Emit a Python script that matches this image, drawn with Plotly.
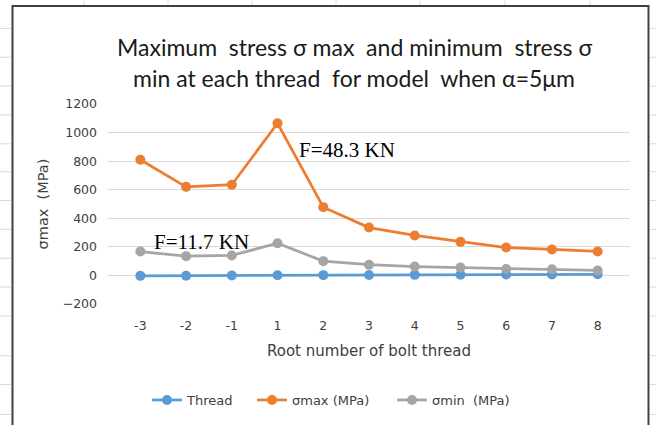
import plotly.graph_objects as go

categories = ["-3", "-2", "-1", "1", "2", "3", "4", "5", "6", "7", "8"]
thread = [-3, -2, -1, 1, 2, 3, 4, 5, 6, 7, 8]
sigma_max = [810, 620, 635, 1065, 478, 335, 280, 235, 195, 182, 168]
sigma_min = [167, 135, 140, 225, 100, 75, 62, 56, 45, 43, 35]
y_ticks = [-200, 0, 200, 400, 600, 800, 1000, 1200]
series_names = ["Thread", "σmax (MPa)", "σmin  (MPa)"]

W, H = 656, 425
L, R, T, B = 108, 630, 104, 305

def px(x):
    return (x - L) / (R - L)

def py(y):
    return (B - y) / (B - T)

fig = go.Figure()
colors = ["#5B9BD5", "#ED7D31", "#A5A5A5"]
legend_ids = ["legend", "legend2", "legend3"]
legend_x = [153, 258, 398]
for name, vals, col, lid in zip(series_names, [thread, sigma_max, sigma_min], colors, legend_ids):
    fig.add_trace(go.Scatter(x=categories, y=vals, name=name, mode="lines+markers",
                             line=dict(color=col, width=2.75),
                             marker=dict(color=col, size=10), legend=lid))

shapes = [dict(type="rect", xref="paper", yref="paper",
               x0=px(12.5), x1=px(648.5), y0=py(440), y1=py(5.5),
               line=dict(color="#404040", width=2), layer="above")]
# faint spreadsheet grid outside chart
for xc in [84, 168, 252, 336, 420, 505, 590]:
    shapes.append(dict(type="line", xref="paper", yref="paper",
                       x0=px(xc), x1=px(xc), y0=py(0), y1=py(4.5),
                       line=dict(color="#DADADA", width=1), layer="below"))
for yr in [28, 57, 86, 115, 144, 172, 201, 230, 259, 288, 317, 357, 386, 416]:
    shapes.append(dict(type="line", xref="paper", yref="paper",
                       x0=px(0), x1=px(11), y0=py(yr), y1=py(yr),
                       line=dict(color="#DADADA", width=1), layer="below"))
    shapes.append(dict(type="line", xref="paper", yref="paper",
                       x0=px(650), x1=px(656), y0=py(yr), y1=py(yr),
                       line=dict(color="#DADADA", width=1), layer="below"))

title_font = dict(family="Lato", size=23, color="#1a1a1a")
ann_font = dict(family="Liberation Serif", size=21, color="#000000")
annotations = [
    dict(text="Maximum  stress σ max  and minimum  stress σ", xref="paper", yref="paper",
         x=px(354), y=py(47), showarrow=False, font=title_font, xanchor="center", yanchor="middle"),
    dict(text="min at each thread  for model  when α=5μm", xref="paper", yref="paper",
         x=px(354), y=py(78), showarrow=False, font=title_font, xanchor="center", yanchor="middle"),
    dict(text="F=48.3 KN", xref="paper", yref="paper", x=px(297), y=py(150),
         showarrow=False, xanchor="left", yanchor="middle", font=ann_font),
    dict(text="F=11.7 KN", xref="paper", yref="paper", x=px(152), y=py(243),
         showarrow=False, xanchor="left", yanchor="middle", font=ann_font),
]

tick_font = dict(family="DejaVu Sans", size=12.5, color="#404040")
legend_font = dict(family="DejaVu Sans", size=13, color="#404040")
legends = {}
for lid, lx in zip(legend_ids, legend_x):
    legends[lid] = dict(orientation="h", x=px(lx - 6), xanchor="left", y=py(400), yanchor="middle",
                        font=legend_font, bgcolor="rgba(0,0,0,0)", itemwidth=30)

fig.update_layout(
    width=W, height=H,
    margin=dict(l=L, r=W - R, t=T, b=H - B),
    paper_bgcolor="white", plot_bgcolor="white",
    showlegend=True,
    xaxis=dict(type="category", showgrid=False, showline=False, ticks="",
               tickfont=tick_font, ticklabelstandoff=12,
               title=dict(text="Root number of bolt thread", standoff=13,
                          font=dict(family="DejaVu Sans", size=15, color="#404040")),
               zeroline=False),
    yaxis=dict(range=[-200, 1200], tickvals=y_ticks, showgrid=True, gridcolor="#D9D9D9",
               gridwidth=1, zeroline=False, showline=False, ticks="",
               tickfont=tick_font, ticklabelstandoff=10,
               title=dict(text="σmax  (MPa)", standoff=10,
                          font=dict(family="DejaVu Sans", size=14.5, color="#404040"))),
    shapes=shapes,
    annotations=annotations,
    **legends,
)

fig.write_html("out.html")
